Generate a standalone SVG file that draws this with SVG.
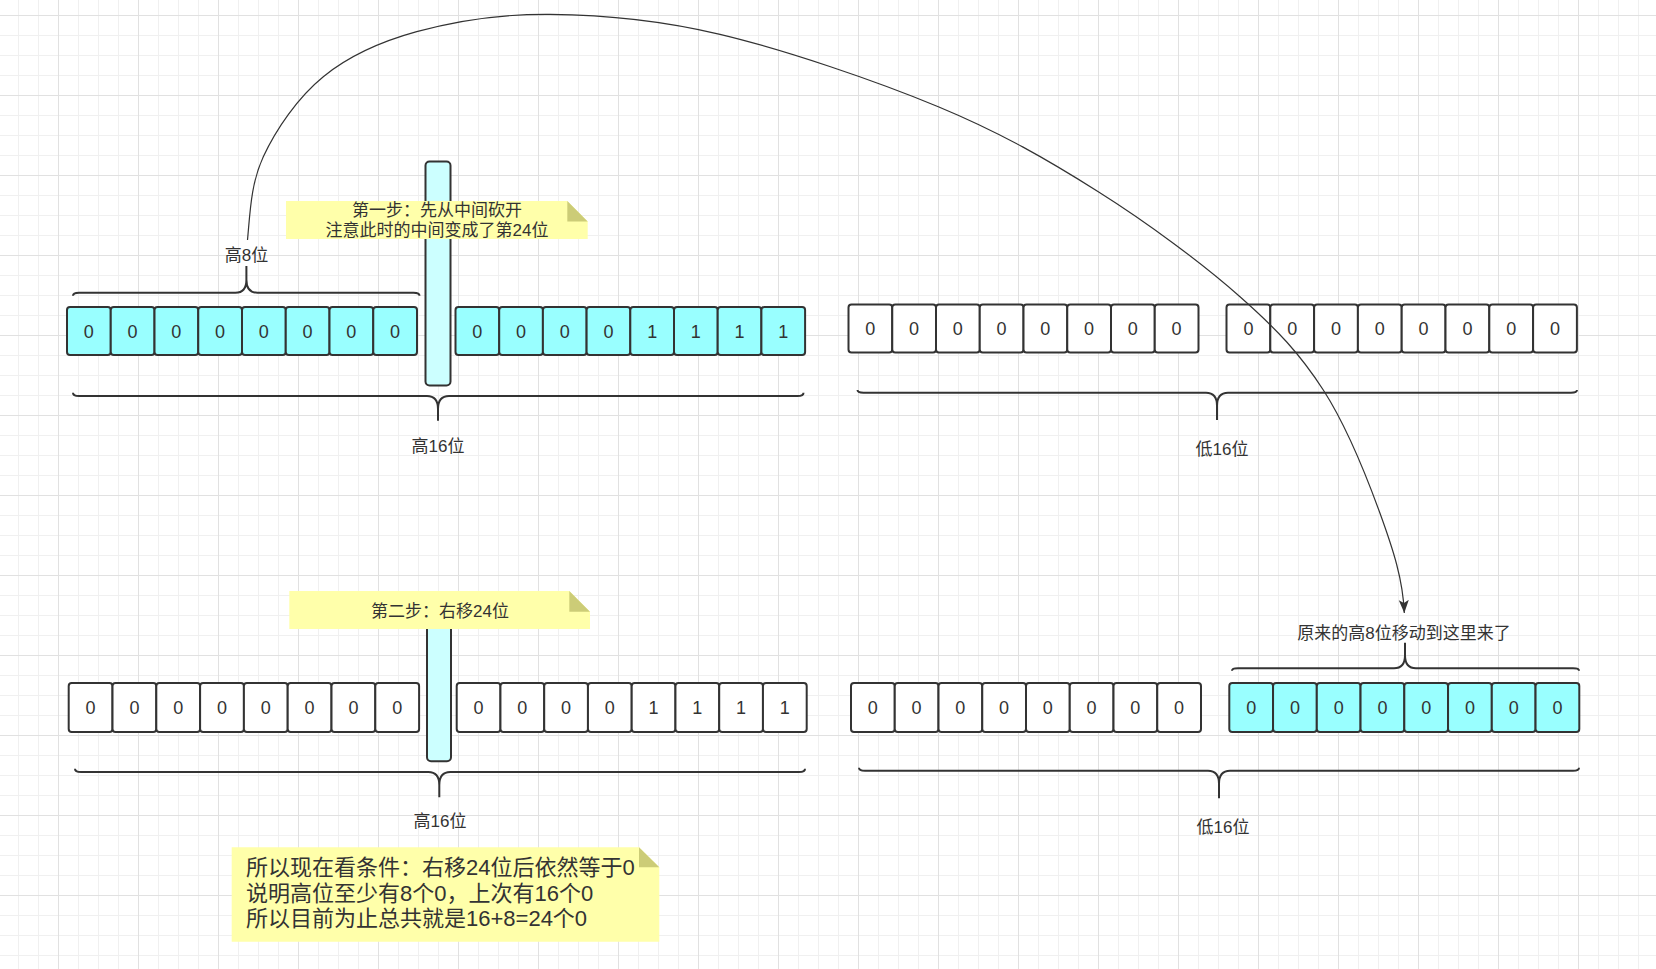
<svg xmlns="http://www.w3.org/2000/svg" width="1656" height="969" viewBox="0 0 1656 969">
<defs>
<pattern id="grid" patternUnits="userSpaceOnUse" x="-22" y="15" width="80" height="80">
<rect width="80" height="80" fill="#ffffff"/>
<rect x="20" width="1" height="80" fill="#f0f0f0"/><rect x="40" width="1" height="80" fill="#f0f0f0"/><rect x="60" width="1" height="80" fill="#f0f0f0"/>
<rect y="20" width="80" height="1" fill="#f0f0f0"/><rect y="40" width="80" height="1" fill="#f0f0f0"/><rect y="60" width="80" height="1" fill="#f0f0f0"/>
<rect x="0" width="1" height="80" fill="#e1e1e1"/><rect y="0" width="80" height="1" fill="#e1e1e1"/>
</pattern>
<marker id="arrow" markerUnits="userSpaceOnUse" markerWidth="14" markerHeight="12" viewBox="0 0 14 12" refX="13" refY="6" orient="auto">
<path d="M0,1 L13,6 L0,11 L3,6 Z" fill="#333333"/>
</marker>
</defs>
<style>
.cy{fill:#99ffff;stroke:#333333;stroke-width:2}
.wh{fill:#ffffff;stroke:#333333;stroke-width:2}
.bar{fill:#ccffff;stroke:#333333;stroke-width:2}
.num{font-family:"Liberation Sans","Noto Sans CJK SC",sans-serif;font-size:18px;fill:#333333;text-anchor:middle}
.lbl{font-family:"Liberation Sans","Noto Sans CJK SC",sans-serif;font-size:17px;fill:#333333;text-anchor:middle}
.big{font-family:"Liberation Sans","Noto Sans CJK SC",sans-serif;font-size:22px;fill:#333333}
.brace{fill:none;stroke:#333333;stroke-width:2;stroke-linejoin:round}
.note{fill:#ffffaa}
.fold{fill:#cccc77}
.edge{fill:none;stroke:#333333;stroke-width:1.2}
</style>
<rect width="1656" height="969" fill="url(#grid)"/>

<!-- top row, high 16 bits, left -->
<g id="a1"><rect class="cy" x="67" y="307" width="43.75" height="48" rx="3"/><text class="num" x="88.88" y="337.5">0</text></g>
<g id="a2"><rect class="cy" x="110.75" y="307" width="43.75" height="48" rx="3"/><text class="num" x="132.63" y="337.5">0</text></g>
<g id="a3"><rect class="cy" x="154.5" y="307" width="43.75" height="48" rx="3"/><text class="num" x="176.38" y="337.5">0</text></g>
<g id="a4"><rect class="cy" x="198.25" y="307" width="43.75" height="48" rx="3"/><text class="num" x="220.13" y="337.5">0</text></g>
<g id="a5"><rect class="cy" x="242" y="307" width="43.75" height="48" rx="3"/><text class="num" x="263.88" y="337.5">0</text></g>
<g id="a6"><rect class="cy" x="285.75" y="307" width="43.75" height="48" rx="3"/><text class="num" x="307.63" y="337.5">0</text></g>
<g id="a7"><rect class="cy" x="329.5" y="307" width="43.75" height="48" rx="3"/><text class="num" x="351.38" y="337.5">0</text></g>
<g id="a8"><rect class="cy" x="373.25" y="307" width="43.75" height="48" rx="3"/><text class="num" x="395.13" y="337.5">0</text></g>
<!-- top row, high 16 bits, right -->
<g id="a9"><rect class="cy" x="455.5" y="307" width="43.7" height="48" rx="3"/><text class="num" x="477.35" y="337.5">0</text></g>
<g id="a10"><rect class="cy" x="499.2" y="307" width="43.7" height="48" rx="3"/><text class="num" x="521.05" y="337.5">0</text></g>
<g id="a11"><rect class="cy" x="542.9" y="307" width="43.7" height="48" rx="3"/><text class="num" x="564.75" y="337.5">0</text></g>
<g id="a12"><rect class="cy" x="586.6" y="307" width="43.7" height="48" rx="3"/><text class="num" x="608.45" y="337.5">0</text></g>
<g id="a13"><rect class="cy" x="630.3" y="307" width="43.7" height="48" rx="3"/><text class="num" x="652.15" y="337.5">1</text></g>
<g id="a14"><rect class="cy" x="674" y="307" width="43.7" height="48" rx="3"/><text class="num" x="695.85" y="337.5">1</text></g>
<g id="a15"><rect class="cy" x="717.7" y="307" width="43.7" height="48" rx="3"/><text class="num" x="739.55" y="337.5">1</text></g>
<g id="a16"><rect class="cy" x="761.4" y="307" width="43.7" height="48" rx="3"/><text class="num" x="783.25" y="337.5">1</text></g>

<!-- top row, low 16 bits -->
<g id="b1"><rect class="wh" x="848.5" y="304.5" width="43.75" height="48" rx="3"/><text class="num" x="870.38" y="335">0</text></g>
<g id="b2"><rect class="wh" x="892.25" y="304.5" width="43.75" height="48" rx="3"/><text class="num" x="914.13" y="335">0</text></g>
<g id="b3"><rect class="wh" x="936" y="304.5" width="43.75" height="48" rx="3"/><text class="num" x="957.88" y="335">0</text></g>
<g id="b4"><rect class="wh" x="979.75" y="304.5" width="43.75" height="48" rx="3"/><text class="num" x="1001.63" y="335">0</text></g>
<g id="b5"><rect class="wh" x="1023.5" y="304.5" width="43.75" height="48" rx="3"/><text class="num" x="1045.38" y="335">0</text></g>
<g id="b6"><rect class="wh" x="1067.25" y="304.5" width="43.75" height="48" rx="3"/><text class="num" x="1089.13" y="335">0</text></g>
<g id="b7"><rect class="wh" x="1111" y="304.5" width="43.75" height="48" rx="3"/><text class="num" x="1132.88" y="335">0</text></g>
<g id="b8"><rect class="wh" x="1154.75" y="304.5" width="43.75" height="48" rx="3"/><text class="num" x="1176.63" y="335">0</text></g>
<g id="b9"><rect class="wh" x="1226.5" y="304.5" width="43.8" height="48" rx="3"/><text class="num" x="1248.4" y="335">0</text></g>
<g id="b10"><rect class="wh" x="1270.3" y="304.5" width="43.8" height="48" rx="3"/><text class="num" x="1292.2" y="335">0</text></g>
<g id="b11"><rect class="wh" x="1314.1" y="304.5" width="43.8" height="48" rx="3"/><text class="num" x="1336" y="335">0</text></g>
<g id="b12"><rect class="wh" x="1357.9" y="304.5" width="43.8" height="48" rx="3"/><text class="num" x="1379.8" y="335">0</text></g>
<g id="b13"><rect class="wh" x="1401.7" y="304.5" width="43.8" height="48" rx="3"/><text class="num" x="1423.6" y="335">0</text></g>
<g id="b14"><rect class="wh" x="1445.5" y="304.5" width="43.8" height="48" rx="3"/><text class="num" x="1467.4" y="335">0</text></g>
<g id="b15"><rect class="wh" x="1489.3" y="304.5" width="43.8" height="48" rx="3"/><text class="num" x="1511.2" y="335">0</text></g>
<g id="b16"><rect class="wh" x="1533.1" y="304.5" width="43.8" height="48" rx="3"/><text class="num" x="1555" y="335">0</text></g>

<!-- bottom row, high 16 bits -->
<g id="c1"><rect class="wh" x="68.7" y="683" width="43.8" height="49" rx="3"/><text class="num" x="90.6" y="714">0</text></g>
<g id="c2"><rect class="wh" x="112.5" y="683" width="43.8" height="49" rx="3"/><text class="num" x="134.4" y="714">0</text></g>
<g id="c3"><rect class="wh" x="156.3" y="683" width="43.8" height="49" rx="3"/><text class="num" x="178.2" y="714">0</text></g>
<g id="c4"><rect class="wh" x="200.1" y="683" width="43.8" height="49" rx="3"/><text class="num" x="222" y="714">0</text></g>
<g id="c5"><rect class="wh" x="243.9" y="683" width="43.8" height="49" rx="3"/><text class="num" x="265.8" y="714">0</text></g>
<g id="c6"><rect class="wh" x="287.7" y="683" width="43.8" height="49" rx="3"/><text class="num" x="309.6" y="714">0</text></g>
<g id="c7"><rect class="wh" x="331.5" y="683" width="43.8" height="49" rx="3"/><text class="num" x="353.4" y="714">0</text></g>
<g id="c8"><rect class="wh" x="375.3" y="683" width="43.8" height="49" rx="3"/><text class="num" x="397.2" y="714">0</text></g>
<g id="c9"><rect class="wh" x="456.7" y="683" width="43.75" height="49" rx="3"/><text class="num" x="478.58" y="714">0</text></g>
<g id="c10"><rect class="wh" x="500.45" y="683" width="43.75" height="49" rx="3"/><text class="num" x="522.33" y="714">0</text></g>
<g id="c11"><rect class="wh" x="544.2" y="683" width="43.75" height="49" rx="3"/><text class="num" x="566.08" y="714">0</text></g>
<g id="c12"><rect class="wh" x="587.95" y="683" width="43.75" height="49" rx="3"/><text class="num" x="609.83" y="714">0</text></g>
<g id="c13"><rect class="wh" x="631.7" y="683" width="43.75" height="49" rx="3"/><text class="num" x="653.58" y="714">1</text></g>
<g id="c14"><rect class="wh" x="675.45" y="683" width="43.75" height="49" rx="3"/><text class="num" x="697.33" y="714">1</text></g>
<g id="c15"><rect class="wh" x="719.2" y="683" width="43.75" height="49" rx="3"/><text class="num" x="741.08" y="714">1</text></g>
<g id="c16"><rect class="wh" x="762.95" y="683" width="43.75" height="49" rx="3"/><text class="num" x="784.83" y="714">1</text></g>

<!-- bottom row, low 16 bits -->
<g id="d1"><rect class="wh" x="851" y="683" width="43.75" height="49" rx="3"/><text class="num" x="872.88" y="714">0</text></g>
<g id="d2"><rect class="wh" x="894.75" y="683" width="43.75" height="49" rx="3"/><text class="num" x="916.63" y="714">0</text></g>
<g id="d3"><rect class="wh" x="938.5" y="683" width="43.75" height="49" rx="3"/><text class="num" x="960.38" y="714">0</text></g>
<g id="d4"><rect class="wh" x="982.25" y="683" width="43.75" height="49" rx="3"/><text class="num" x="1004.13" y="714">0</text></g>
<g id="d5"><rect class="wh" x="1026" y="683" width="43.75" height="49" rx="3"/><text class="num" x="1047.88" y="714">0</text></g>
<g id="d6"><rect class="wh" x="1069.75" y="683" width="43.75" height="49" rx="3"/><text class="num" x="1091.63" y="714">0</text></g>
<g id="d7"><rect class="wh" x="1113.5" y="683" width="43.75" height="49" rx="3"/><text class="num" x="1135.38" y="714">0</text></g>
<g id="d8"><rect class="wh" x="1157.25" y="683" width="43.75" height="49" rx="3"/><text class="num" x="1179.13" y="714">0</text></g>
<g id="d9"><rect class="cy" x="1229.3" y="683" width="43.75" height="49" rx="3"/><text class="num" x="1251.18" y="714">0</text></g>
<g id="d10"><rect class="cy" x="1273.05" y="683" width="43.75" height="49" rx="3"/><text class="num" x="1294.93" y="714">0</text></g>
<g id="d11"><rect class="cy" x="1316.8" y="683" width="43.75" height="49" rx="3"/><text class="num" x="1338.68" y="714">0</text></g>
<g id="d12"><rect class="cy" x="1360.55" y="683" width="43.75" height="49" rx="3"/><text class="num" x="1382.43" y="714">0</text></g>
<g id="d13"><rect class="cy" x="1404.3" y="683" width="43.75" height="49" rx="3"/><text class="num" x="1426.18" y="714">0</text></g>
<g id="d14"><rect class="cy" x="1448.05" y="683" width="43.75" height="49" rx="3"/><text class="num" x="1469.93" y="714">0</text></g>
<g id="d15"><rect class="cy" x="1491.8" y="683" width="43.75" height="49" rx="3"/><text class="num" x="1513.68" y="714">0</text></g>
<g id="d16"><rect class="cy" x="1535.55" y="683" width="43.75" height="49" rx="3"/><text class="num" x="1557.43" y="714">0</text></g>

<!-- braces with labels -->
<g id="brace-high8-top">
<path class="brace" d="M73,295.7 Q73,292.7 79,292.7 H235.4 Q246.4,292.7 246.4,279.7 V266 M246.4,279.7 Q246.4,292.7 257.4,292.7 H413.5 Q419.5,292.7 419.5,295.7"/>
<text class="lbl" x="246.5" y="261">高8位</text>
</g>
<g id="brace-high16-top">
<path class="brace" d="M73,392.7 Q73,396 79,396 H427 Q438,396 438,409 V420.7 M438,409 Q438,396 449,396 H797.5 Q803.5,396 803.5,392.7"/>
<text class="lbl" x="438" y="451.5">高16位</text>
</g>
<g id="brace-low16-top">
<path class="brace" d="M857.5,390 Q857.5,392.7 863.5,392.7 H1206 Q1217,392.7 1217,405.7 V420 M1217,405.7 Q1217,392.7 1228,392.7 H1571 Q1577,392.7 1577,390"/>
<text class="lbl" x="1222" y="455">低16位</text>
</g>
<g id="brace-high16-bottom">
<path class="brace" d="M75,768.7 Q75,772 81,772 H428.3 Q439.3,772 439.3,785 V797.3 M439.3,785 Q439.3,772 450.3,772 H799 Q805,772 805,768.7"/>
<text class="lbl" x="440" y="826.5">高16位</text>
</g>
<g id="brace-moved8">
<path class="brace" d="M1232,670.7 Q1232,668.3 1238,668.3 H1394 Q1405,668.3 1405,655.3 V642.7 M1405,655.3 Q1405,668.3 1416,668.3 H1573 Q1579,668.3 1579,670.7"/>
<text class="lbl" x="1404" y="638.5">原来的高8位移动到这里来了</text>
</g>
<g id="brace-low16-bottom">
<path class="brace" d="M859,767.7 Q859,770.7 865,770.7 H1208 Q1219,770.7 1219,783.7 V798.3 M1219,783.7 Q1219,770.7 1230,770.7 H1573 Q1579,770.7 1579,767.7"/>
<text class="lbl" x="1223" y="832.5">低16位</text>
</g>

<!-- cut bars -->
<g id="cut-top"><rect class="bar" x="425.5" y="161.5" width="25" height="224" rx="4"/></g>
<g id="cut-bottom"><rect class="bar" x="427" y="600" width="24" height="161.3" rx="4"/></g>

<!-- notes -->
<g id="note-step1">
<path class="note" d="M286,201 H567.3 L587.7,221.4 V239 H286 Z"/>
<path class="fold" d="M567.3,201 V221.4 H587.7 Z"/>
<text class="lbl"><tspan x="437" y="216">第一步：先从中间砍开</tspan><tspan x="437" y="236">注意此时的中间变成了第24位</tspan></text>
</g>
<g id="note-step2">
<path class="note" d="M289.3,591 H569.3 L590,611.7 V629 H289.3 Z"/>
<path class="fold" d="M569.3,591 V611.7 H590 Z"/>
<text class="lbl" x="440" y="617">第二步：右移24位</text>
</g>
<g id="note-summary">
<path class="note" d="M231.7,847.3 H639 L659.3,867.3 V941.7 H231.7 Z"/>
<path class="fold" d="M639,847.3 V867.3 H659.3 Z"/>
<text class="big"><tspan x="246" y="875">所以现在看条件：右移24位后依然等于0</tspan><tspan x="246" y="900.5">说明高位至少有8个0，上次有16个0</tspan><tspan x="246" y="926">所以目前为止总共就是16+8=24个0</tspan></text>
</g>

<!-- connectors -->
<g id="connectors">
<path class="edge" marker-end="url(#arrow)" d="M247.5,240 C250.1,212.8 250.7,183.9 263.3,156.7 C275.9,129.5 297.7,97.5 323.3,76.7 C348.9,55.9 378.9,42.1 416.7,31.7 C454.5,21.3 499.5,13.9 550,14.3 C600.6,14.7 655.3,18.9 720,34.3 C784.7,49.7 875.3,80.5 938.3,106.7 C1001.4,132.9 1048,160 1098.3,191.7 C1148.6,223.4 1202.5,263.6 1240,296.7 C1277.5,329.8 1300,353.9 1323.3,390 C1346.6,426.1 1366.5,476.1 1380,513.3 C1393.5,550.5 1403,580 1404.3,613"/>
</g>
</svg>
